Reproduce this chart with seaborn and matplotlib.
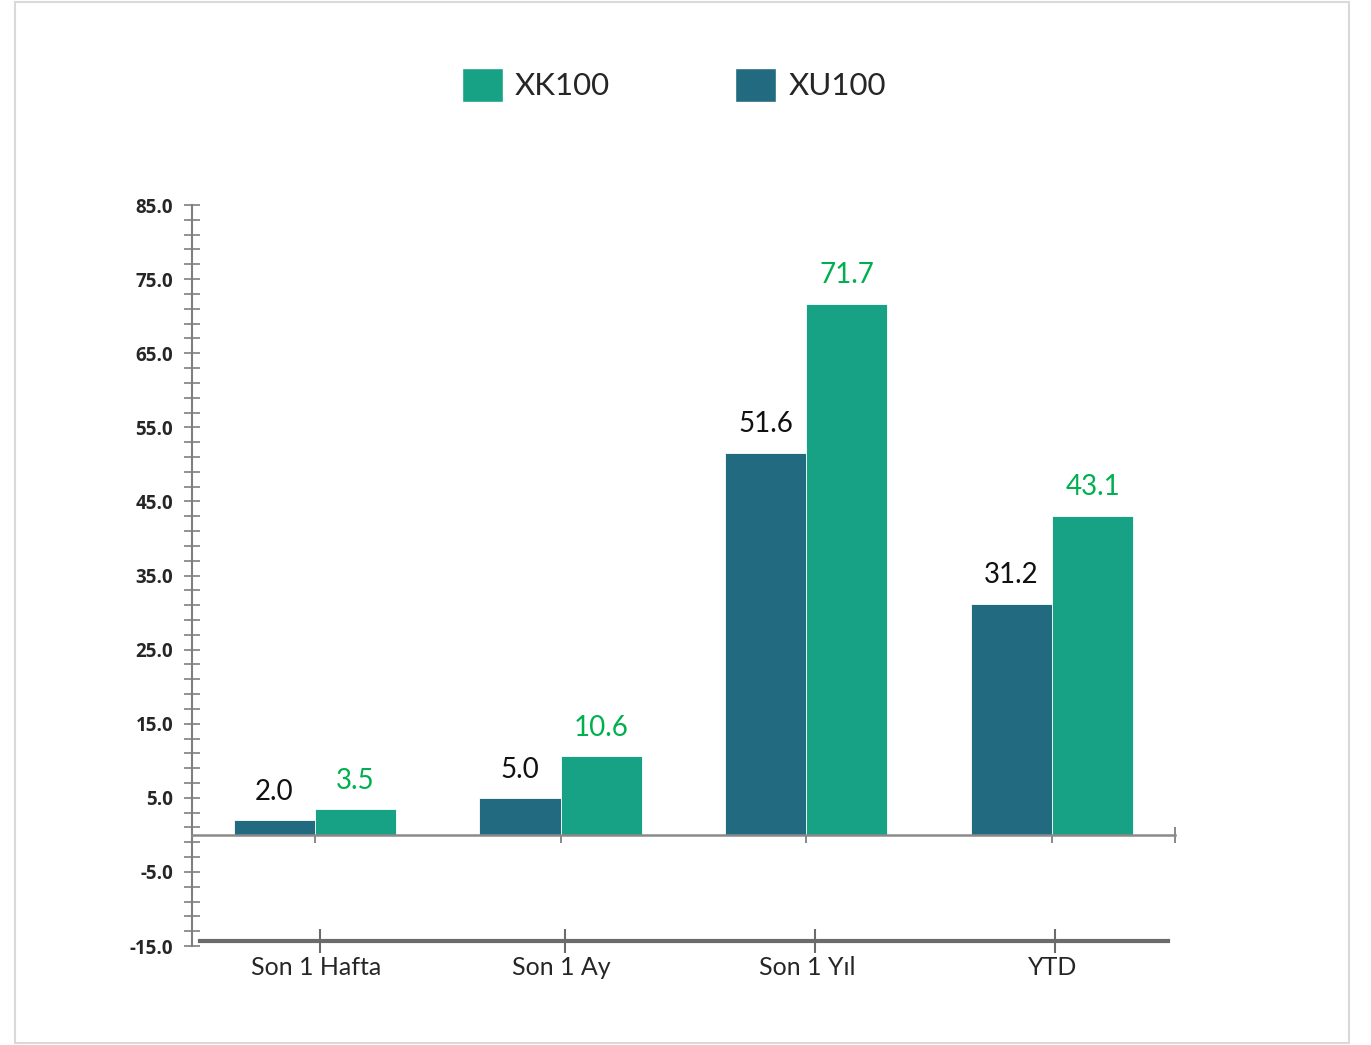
import matplotlib
matplotlib.use("Agg")
import matplotlib.pyplot as plt
from matplotlib.patches import Patch, Rectangle
from matplotlib.ticker import MultipleLocator
import seaborn as sns
import pandas as pd

categories = ["Son 1 Hafta", "Son 1 Ay", "Son 1 Yıl", "YTD"]
xu100 = [2.0, 5.0, 51.6, 31.2]
xk100 = [3.5, 10.6, 71.7, 43.1]
series_names = ["XU100", "XK100"]
colors = {"XU100": "#216A80", "XK100": "#17A185"}
label_colors = {"XU100": "#111111", "XK100": "#00B050"}
y_major = list(range(-15, 86, 10))

df = pd.DataFrame({
    "cat": categories * 2,
    "val": xu100 + xk100,
    "series": ["XU100"] * 4 + ["XK100"] * 4,
})

sns.set_style("white")
plt.rcParams["font.family"] = ["Lato", "DejaVu Sans"]

fig = plt.figure(figsize=(13.71, 10.45), dpi=100)
ax = fig.add_axes([0.1400, 0.0947, 0.7170, 0.7091])

sns.barplot(data=df, x="cat", y="val", hue="series", hue_order=series_names,
            palette=colors, saturation=1, width=0.66, legend=False, ax=ax,
            edgecolor="white", linewidth=0.6, errorbar=None)

for cont, name in zip(ax.containers, series_names):
    ax.bar_label(cont, fmt="%.1f", padding=11, fontsize=20,
                 color=label_colors[name])

ax.set_xlim(-0.5, 3.5)
ax.set_ylim(-15, 85)
ax.set_yticks(y_major)
ax.set_yticklabels([f"{v:.1f}" for v in y_major], fontweight="bold", fontsize=13.5,
                   family=["Open Sans", "DejaVu Sans"])
ax.yaxis.set_minor_locator(MultipleLocator(2, offset=1))
ax.tick_params(axis="y", which="both", direction="inout", length=11, width=1.2,
               color="#7f7f7f", left=True, pad=8)
ax.set_xlabel("")
ax.set_ylabel("")

ax.spines["top"].set_visible(False)
ax.spines["right"].set_visible(False)
ax.spines["left"].set_color("#7f7f7f")
ax.spines["left"].set_linewidth(1.5)
ax.spines["bottom"].set_position(("data", 0))
ax.spines["bottom"].set_color("#8a8a8a")
ax.spines["bottom"].set_linewidth(1.8)
ax.set_xticks([0, 1, 2, 3, 3.5])
ax.set_xticklabels([""] * 5)
ax.tick_params(axis="x", which="major", direction="inout", length=12, width=1.3,
               color="#7f7f7f", bottom=True)
ax.set_facecolor("none")

# bottom category axis: major ticks are marks only, minor ticks carry labels
ax2 = fig.add_axes([0.1459, 0.0995, 0.7061, 0.0001])
ax2.set_xlim(0, 4)
ax2.set_xticks([0.496, 1.508, 2.541, 3.533])
ax2.set_xticklabels([""] * 4)
ax2.set_xticks([0.479, 1.492, 2.508, 3.521], minor=True)
ax2.set_xticklabels(categories, minor=True)
ax2.set_yticks([])
for s in ["top", "left", "right"]:
    ax2.spines[s].set_visible(False)
ax2.spines["bottom"].set_color("#6b6b6b")
ax2.spines["bottom"].set_linewidth(3)
ax2.tick_params(axis="x", which="major", direction="inout", length=17, width=1.5,
                color="#6b6b6b", bottom=True)
ax2.tick_params(axis="x", which="minor", length=0, labelsize=18, pad=11,
                bottom=True)
ax2.patch.set_alpha(0)

handles = [Patch(facecolor=colors["XK100"], label="XK100"),
           Patch(facecolor=colors["XU100"], label="XU100")]
fig.legend(handles=handles, loc="center", bbox_to_anchor=(0.4915, 0.9190),
           ncol=2, frameon=False, fontsize=22.5, handlelength=1.31,
           handleheight=1.31, handletextpad=0.4, columnspacing=4.0,
           borderpad=0)

fig.patches.append(Rectangle((15 / 1371, 2 / 1045), 1334 / 1371, 1041 / 1045,
                             transform=fig.transFigure, fill=False,
                             edgecolor="#d9d9d9", linewidth=1.5))

fig.savefig("out.png", dpi=100, facecolor="white")
